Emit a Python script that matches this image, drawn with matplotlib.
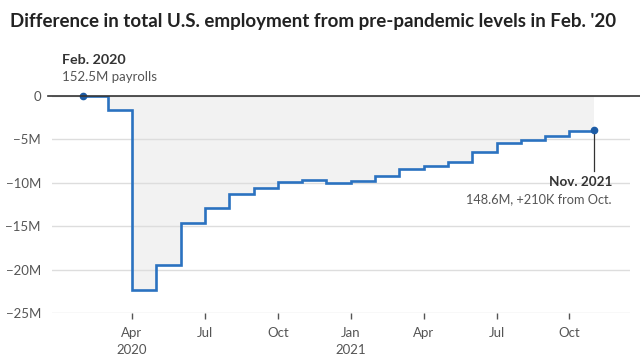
import matplotlib
matplotlib.use("Agg")
import matplotlib.pyplot as plt
from matplotlib.lines import Line2D

plt.rcParams["font.family"] = ["Lato", "DejaVu Sans"]

# months since Feb 2020
months = list(range(22))
labels_month = ["Feb 2020", "Mar", "Apr", "May", "Jun", "Jul", "Aug", "Sep", "Oct", "Nov", "Dec",
                "Jan 2021", "Feb", "Mar", "Apr", "May", "Jun", "Jul", "Aug", "Sep", "Oct", "Nov"]
# difference from Feb 2020 payrolls, millions
diff = [0.0, -1.6, -22.4, -19.5, -14.6, -12.9, -11.3, -10.6, -9.9, -9.7, -10.0,
        -9.8, -9.2, -8.4, -8.1, -7.6, -6.5, -5.45, -5.07, -4.57, -4.07, -3.9]

tick_pos = [2, 5, 8, 11, 14, 17, 20]
tick_labels = ["Apr\n2020", "Jul", "Oct", "Jan\n2021", "Apr", "Jul", "Oct"]
y_ticks = [0, -5, -10, -15, -20, -25]
y_labels = ["0", "\u22125M", "\u221210M", "\u221215M", "\u221220M", "\u221225M"]

BLUE = "#2b72c0"
DOT = "#1d5ca6"
GRAY_TXT = "#555555"

fig = plt.figure(figsize=(6.4, 3.6), dpi=100)
ax = fig.add_axes([52 / 640, 1 - 313 / 360, 578 / 640, 217 / 360])

ax.fill_between(months, diff, 0, step="post", color="#f2f2f2", lw=0, zorder=1)
ax.plot(months, diff, drawstyle="steps-post", color=BLUE, lw=1.9, zorder=3,
        solid_joinstyle="miter")
ax.plot([months[0], months[-1]], [diff[0], diff[-1]], "o", color=DOT, ms=4.5,
        zorder=4, clip_on=False)

# px = 83.4 + 24.3*m
ax.set_xlim((52 - 83.4) / 24.3, (630 - 83.4) / 24.3)
ax.set_ylim(-25, 0)

ax.set_yticks(y_ticks)
ax.set_yticklabels(y_labels)
ax.set_xticks(tick_pos)
ax.set_xticklabels(tick_labels, linespacing=1.5)
ax.tick_params(axis="y", length=0, pad=8, labelsize=9.5, labelcolor=GRAY_TXT)
ax.tick_params(axis="x", length=4, width=1, color="#555555", pad=6,
               labelsize=9.5, labelcolor=GRAY_TXT)
ax.grid(axis="y", color="#dddddd", lw=1, zorder=0)
for s in ax.spines.values():
    s.set_visible(False)

# zero baseline, running to the right edge
y0 = 1 - 96 / 360
fig.add_artist(Line2D([48 / 640, 1.0], [y0, y0], color="#333333", lw=1.2, zorder=2))

# annotations
fig.text(62 / 640, 1 - 60 / 360, "Feb. 2020", fontsize=10.3, fontweight="bold",
         color="#333333", va="center", ha="left")
fig.text(62 / 640, 1 - 77 / 360, "152.5M payrolls", fontsize=9.5,
         color=GRAY_TXT, va="center", ha="left")

ax.plot([months[-1], months[-1]], [diff[-1], -8.6], color="#333333", lw=0.9, zorder=2)
fig.text(612 / 640, 1 - 182 / 360, "Nov. 2021", fontsize=9.7, fontweight="bold",
         color="#333333", va="center", ha="right")
fig.text(612 / 640, 1 - 199 / 360, "148.6M, +210K from Oct.", fontsize=9.2,
         color=GRAY_TXT, va="center", ha="right")

fig.text(10 / 640, 1 - 22 / 360,
         "Difference in total U.S. employment from pre-pandemic levels in Feb. '20",
         fontsize=13.5, fontweight="bold", color="#222222", va="center", ha="left")

fig.savefig("out.png", dpi=100)
